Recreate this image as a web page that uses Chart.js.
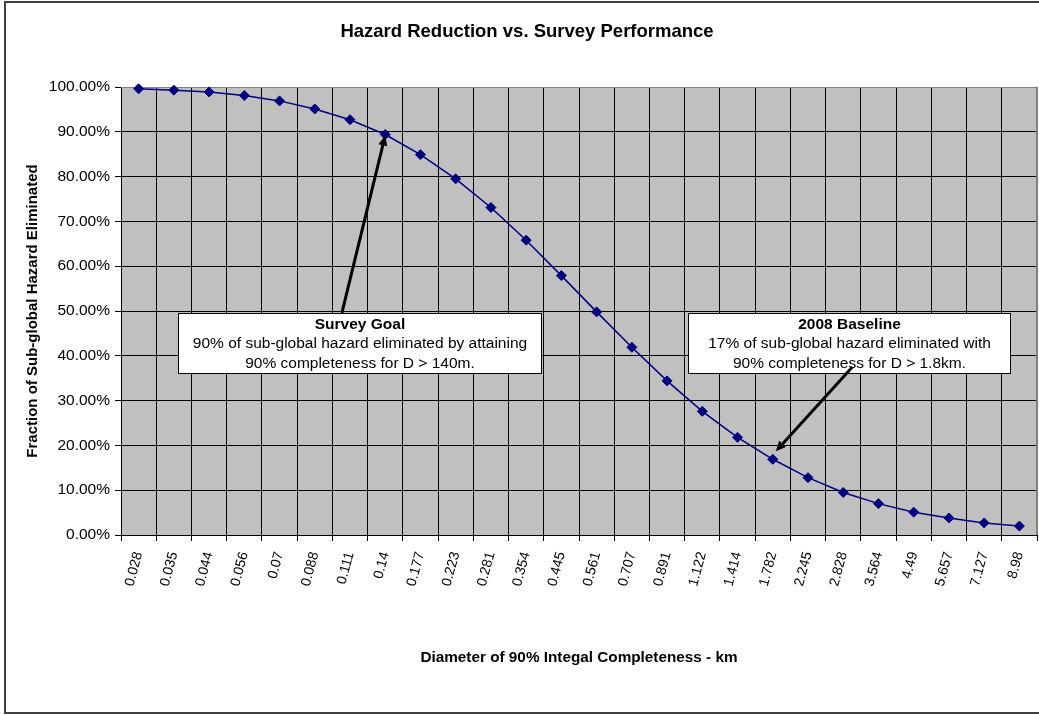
<!DOCTYPE html>
<html>
<head>
<meta charset="utf-8">
<title>Hazard Reduction vs. Survey Performance</title>
<script src="https://cdn.jsdelivr.net/npm/chart.js@4.4.1/dist/chart.umd.min.js"></script>
<style>
  html, body { margin: 0; padding: 0; background: #ffffff; }
  canvas { display: block; }
</style>
</head>
<body>
<canvas id="chart" width="1039" height="715"></canvas>
<script>
// Diameter (km) at which the survey reaches 90% integral completeness
const diameters = ['0.028', '0.035', '0.044', '0.056', '0.07', '0.088', '0.111', '0.14', '0.177',
  '0.223', '0.281', '0.354', '0.445', '0.561', '0.707', '0.891', '1.122', '1.414', '1.782',
  '2.245', '2.828', '3.564', '4.49', '5.657', '7.127', '8.98'];

// Fraction of sub-global hazard eliminated (%)
const hazardEliminated = [99.6, 99.3, 98.9, 98.1, 96.9, 95.1, 92.7, 89.4, 84.9, 79.5, 73.1, 65.8,
  57.9, 49.8, 41.9, 34.4, 27.6, 21.8, 16.9, 12.8, 9.5, 7.0, 5.1, 3.8, 2.7, 2.0];

// Y axis tick labels, 0% .. 100% in steps of 10
const yTickLabels = ['0.00%', '10.00%', '20.00%', '30.00%', '40.00%', '50.00%', '60.00%',
  '70.00%', '80.00%', '90.00%', '100.00%'];

const chartTitle = 'Hazard Reduction vs. Survey Performance';
const xTitle = 'Diameter of 90% Integal Completeness - km';
const yTitle = 'Fraction of Sub-global Hazard Eliminated';

const goalText = ['Survey Goal', '90% of sub-global hazard eliminated by attaining', '90% completeness for D > 140m.'];
const baselineText = ['2008 Baseline', '17% of sub-global hazard eliminated with', '90% completeness for D > 1.8km.'];

const FONT = "'Liberation Sans', Arial, Helvetica, sans-serif";

// Callout boxes placed in axis units (category index, percent); the arrow points at a data point
const callouts = [
  { lines: goalText, pointIndex: 7,
    box: { x0: 1.11, x1: 11.42, yTop: 49.6, yBottom: 36.2 },
    tail: { x: 5.77, y: 49.6 }, tipShift: [0, 1] },
  { lines: baselineText, pointIndex: 18,
    box: { x0: 15.6, x1: 24.72, yTop: 49.6, yBottom: 36.2 },
    tail: { x: 20.26, y: 37.5 }, tipShift: [3, -8] }
];

function drawArrow(ctx, x0, y0, x1, y1) {
  const ang = Math.atan2(y1 - y0, x1 - x0);
  const headLen = 10, headHalf = 4.5;
  const bx = x1 - headLen * Math.cos(ang), by = y1 - headLen * Math.sin(ang);
  ctx.save();
  ctx.strokeStyle = '#000';
  ctx.fillStyle = '#000';
  ctx.lineWidth = 3;
  ctx.lineCap = 'butt';
  ctx.beginPath();
  ctx.moveTo(x0, y0);
  ctx.lineTo(bx, by);
  ctx.stroke();
  ctx.beginPath();
  ctx.moveTo(x1, y1);
  ctx.lineTo(bx + headHalf * Math.sin(ang), by - headHalf * Math.cos(ang));
  ctx.lineTo(bx - headHalf * Math.sin(ang), by + headHalf * Math.cos(ang));
  ctx.closePath();
  ctx.fill();
  ctx.restore();
}

const decorations = {
  id: 'decorations',
  beforeDraw(chart) {
    const { ctx, chartArea: a } = chart;
    ctx.save();
    ctx.fillStyle = '#C0C0C0';
    ctx.fillRect(a.left, a.top, a.right - a.left, a.bottom - a.top);
    ctx.restore();
  },
  beforeDatasetsDraw(chart) {
    const { ctx, chartArea: a } = chart;
    ctx.save();
    ctx.strokeStyle = '#808080';
    ctx.lineWidth = 1;
    ctx.beginPath();
    ctx.moveTo(a.left, Math.round(a.top) + 0.5);
    ctx.lineTo(a.right, Math.round(a.top) + 0.5);
    ctx.stroke();
    ctx.lineWidth = 2;
    ctx.beginPath();
    ctx.moveTo(Math.round(a.right), a.top);
    ctx.lineTo(Math.round(a.right), a.bottom);
    ctx.stroke();
    ctx.restore();
  },
  afterDatasetsDraw(chart) {
    const { ctx } = chart;
    const xs = chart.scales.x, ys = chart.scales.y;
    callouts.forEach(c => {
      const l = Math.round(xs.getPixelForValue(c.box.x0)) + 0.5;
      const r = Math.round(xs.getPixelForValue(c.box.x1)) + 0.5;
      const t = Math.round(ys.getPixelForValue(c.box.yTop)) + 0.5;
      const b = Math.round(ys.getPixelForValue(c.box.yBottom)) + 0.5;
      ctx.save();
      ctx.fillStyle = '#ffffff';
      ctx.fillRect(l, t, r - l, b - t);
      ctx.strokeStyle = '#000';
      ctx.lineWidth = 1;
      ctx.strokeRect(l, t, r - l, b - t);
      ctx.fillStyle = '#000';
      ctx.textAlign = 'center';
      ctx.textBaseline = 'middle';
      const cx = (l + r) / 2;
      c.lines.forEach((line, i) => {
        ctx.font = (i === 0 ? 'bold ' : '') + '15.5px ' + FONT;
        ctx.fillText(line, cx, t + 11 + i * 19.5);
      });
      ctx.restore();
      const tipX = xs.getPixelForValue(c.pointIndex) + c.tipShift[0];
      const tipY = ys.getPixelForValue(hazardEliminated[c.pointIndex]) + c.tipShift[1];
      drawArrow(ctx, xs.getPixelForValue(c.tail.x), ys.getPixelForValue(c.tail.y), tipX, tipY);
    });
  },
  afterDraw(chart) {
    const { ctx, chartArea: a } = chart;
    ctx.save();
    ctx.fillStyle = '#000';
    ctx.textAlign = 'center';
    ctx.textBaseline = 'middle';
    ctx.font = 'bold 18.5px ' + FONT;
    ctx.fillText(chartTitle, 527, 32);
    ctx.font = 'bold 15.3px ' + FONT;
    ctx.fillText(xTitle, (a.left + a.right) / 2, 658);
    ctx.font = 'bold 15px ' + FONT;
    ctx.translate(33, (a.top + a.bottom) / 2);
    ctx.rotate(-Math.PI / 2);
    ctx.fillText(yTitle, 0, 0);
    ctx.restore();
    // outer frame of the chart
    ctx.save();
    ctx.strokeStyle = '#404040';
    ctx.lineWidth = 2;
    ctx.strokeRect(5, 2, 1045, 711);
    ctx.restore();
  }
};

new Chart(document.getElementById('chart'), {
  type: 'line',
  data: {
    labels: diameters,
    datasets: [{
      data: hazardEliminated,
      borderColor: '#000080',
      backgroundColor: '#000080',
      borderWidth: 1.5,
      pointStyle: 'rectRot',
      pointRadius: 5,
      pointBorderWidth: 1,
      pointBackgroundColor: '#000080',
      pointBorderColor: '#000080',
      tension: 0,
      fill: false,
      clip: false
    }]
  },
  options: {
    responsive: false,
    animation: false,
    devicePixelRatio: 1,
    layout: { autoPadding: false, padding: { top: 87, right: 2, left: 0, bottom: 0 } },
    plugins: {
      legend: { display: false },
      tooltip: { enabled: false },
      title: { display: false }
    },
    scales: {
      x: {
        type: 'category',
        offset: true,
        grid: { offset: true, color: '#000', lineWidth: 1, drawTicks: true, tickLength: 6, tickColor: '#000' },
        border: { display: true, color: '#000', width: 1 },
        ticks: {
          autoSkip: false,
          minRotation: 75,
          maxRotation: 75,
          padding: 9,
          color: '#000',
          font: { family: FONT, size: 14 }
        },
        afterFit(scale) {
          scale.height = 180;
          scale.paddingLeft = 0;
          scale.paddingRight = 0;
        }
      },
      y: {
        min: 0,
        max: 100,
        grid: { color: '#000', lineWidth: 1, drawTicks: true, tickLength: 6, tickColor: '#000' },
        border: { display: true, color: '#000', width: 1 },
        ticks: {
          stepSize: 10,
          padding: 5,
          color: '#000',
          font: { family: FONT, size: 15.5 },
          callback: (v) => yTickLabels[Math.round(v / 10)]
        },
        afterFit(scale) { scale.width = 121; }
      }
    }
  },
  plugins: [decorations]
});
</script>
</body>
</html>
